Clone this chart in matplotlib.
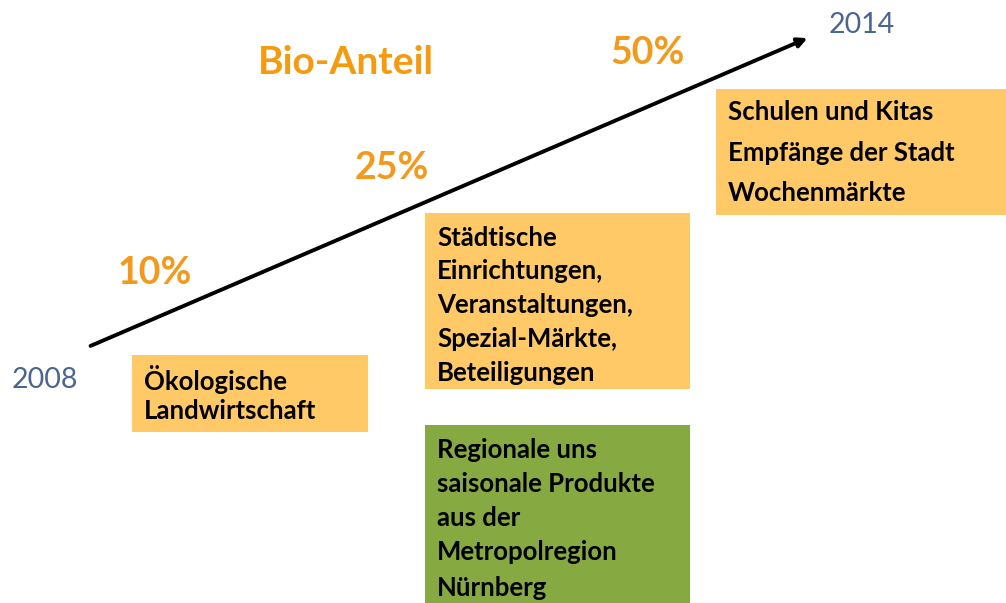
import matplotlib.pyplot as plt
from matplotlib.patches import Rectangle

# Inhalte
title = "Bio-Anteil"
years = ["2008", "2014"]
shares = ["10%", "25%", "50%"]
box_texts = [
    ["Ökologische", "Landwirtschaft"],
    ["Städtische", "Einrichtungen,", "Veranstaltungen,", "Spezial-Märkte,", "Beteiligungen"],
    ["Regionale uns", "saisonale Produkte", "aus der", "Metropolregion", "Nürnberg"],
    ["Schulen und Kitas", "Empfänge der Stadt", "Wochenmärkte"],
]
box_colors = ["#FEC966", "#FEC966", "#86A942", "#FEC966"]

# Layout in Pixeln (Bildkoordinaten)
W, H = 1006, 603
share_pos = [(155, 273), (392, 168), (648, 53)]
year_pos = [(45, 380), (862, 25)]
box_rects = [(132, 355, 236, 77), (425, 213, 265, 176), (425, 425, 265, 190), (716, 89, 300, 126)]
box_lines = [[379, 411], [238, 271, 305, 339, 373], [450, 484, 518, 552, 588], [112, 153, 193]]

fig = plt.figure(figsize=(W / 100, H / 100), dpi=100)
ax = fig.add_axes([0, 0, 1, 1])
ax.set_xlim(0, W)
ax.set_ylim(H, 0)
ax.axis("off")

# Pfeil
ax.annotate("", xy=(810, 37), xytext=(88, 347),
            arrowprops=dict(arrowstyle="-|>", color="black", lw=2.8, mutation_scale=14))

ax.text(346, 63, title, color="#F79A0E", fontsize=28, fontweight="bold",
        family="Lato", ha="center", va="center")

for s, (x, y) in zip(shares, share_pos):
    ax.text(x, y, s, color="#F39A1C", fontsize=27, fontweight="bold",
            family="Lato", ha="center", va="center")

for yr, (x, y) in zip(years, year_pos):
    ax.text(x, y, yr, color="#4A6591", fontsize=20.5, family="Lato",
            ha="center", va="center")

for lines, col, (x, y, w, h), ys in zip(box_texts, box_colors, box_rects, box_lines):
    ax.add_patch(Rectangle((x, y), w, h, facecolor=col, edgecolor="none"))
    for t, ty in zip(lines, ys):
        ax.text(x + 12, ty, t, color="black", fontsize=18.5, fontweight="bold",
                family="Lato", ha="left", va="center")

fig.savefig("out.png", dpi=100)
